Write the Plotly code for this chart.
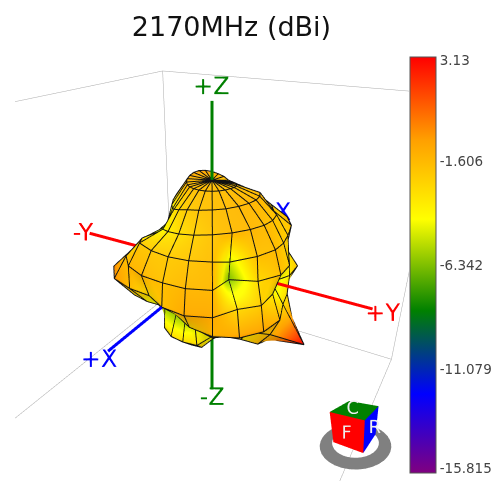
import numpy as np
import plotly.graph_objects as go

title = "2170MHz (dBi)"
gain_min, gain_max = -15.815, 3.13
tick_labels = ["3.13", "-1.606", "-6.342", "-11.079", "-15.815"]
tick_values = [2.99, -1.606, -6.342, -11.079, -15.6]

theta_deg = list(range(0, 181, 15))
phi_deg = list(range(0, 360, 15))
#          phi: 0    15    30    45    60    75    90   105   120   135   150   165   180   195   210   225   240   255   270   285   300   315   330   345
gain_table = [
    [-1.6, -1.6, -1.6, -1.6, -1.6, -1.6, -1.6, -1.6, -1.6, -1.6, -1.6, -1.6, -1.6, -1.6, -1.6, -1.6, -1.6, -1.6, -1.6, -1.6, -1.6, -1.6, -1.6, -1.6],
    [-1.5, -1.5, -1.5, -1.5, -1.5, -1.5, -1.6, -1.7, -1.8, -1.9, -2.0, -2.0, -1.6, -1.3, -1.0, -0.8, -0.7, -0.8, -1.0, -1.2, -1.4, -1.5, -1.5, -1.5],
    [-2.0, -1.7, -1.5, -1.4, -1.3, -1.3, -1.4, -1.5, -1.6, -2.2, -3.0, -3.6, -4.0, -4.0, -3.8, -3.4, -3.0, -3.0, -3.2, -3.6, -3.8, -3.8, -3.2, -2.6],
    [-2.8, -2.2, -1.7, -1.4, -1.3, -1.5, -1.8, -2.0, -2.6, -2.4, -3.2, -4.4, -5.4, -5.6, -5.6, -5.4, -5.0, -5.4, -5.8, -6.0, -6.0, -5.6, -4.2, -3.4],
    [-2.0, -1.8, -1.5, -5.0, -1.8, -1.6, -2.2, -2.4, -1.8, -1.6, -2.8, -4.4, -6.0, -6.6, -6.8, -6.6, -6.2, -6.2, -6.0, -5.6, -4.8, -3.4, -2.0, -2.0],
    [-1.8, -1.4, -1.4, -6.5, -2.8, -1.8, -2.4, -3.4, -3.8, -3.6, -4.4, -5.4, -6.4, -7.0, -7.2, -7.0, -6.6, -5.8, -5.2, -4.5, -3.2, -2.0, -1.4, -1.4],
    [-1.8, -1.0, -1.0, -2.6, -2.2, -3.5, -5.5, -3.5, -2.2, -3.2, -4.4, -5.4, -6.6, -7.2, -7.4, -7.2, -6.4, -5.0, -3.2, -1.4, -0.2, -0.4, -1.8, -3.0],
    [-4.6, -2.8, -1.4, -0.8, -0.8, -1.4, -3.0, -3.2, -3.4, -4.2, -4.8, -5.6, -6.6, -7.2, -7.4, -7.0, -6.2, -5.2, -4.4, -3.4, -2.6, -2.8, -4.0, -5.0],
    [-6.6, -4.6, -3.4, -3.4, -3.4, -1.6, 3.0, -0.5, -2.4, -3.4, -4.8, -5.8, -6.6, -7.2, -7.4, -7.0, -6.4, -5.8, -5.4, -5.0, -5.0, -5.2, -6.0, -7.2],
    [-3.0, -3.0, -4.6, -4.4, -3.4, -1.6, -1.0, -1.0, -3.0, -4.0, -5.0, -5.8, -6.4, -6.8, -7.0, -6.8, -6.4, -6.0, -5.8, -5.6, -5.4, -5.0, -3.4, -3.0],
    [-2.8, -2.8, -4.2, -4.8, -4.0, -3.2, -2.8, -3.0, -4.0, -5.0, -5.6, -6.2, -6.4, -6.6, -6.6, -6.4, -6.2, -6.0, -5.6, -5.6, -5.0, -4.4, -3.8, -2.8],
    [-5.0, -5.0, -5.0, -5.0, -5.0, -4.8, -4.8, -5.0, -5.2, -5.4, -5.6, -5.8, -6.0, -6.2, -6.4, -6.4, -6.2, -6.0, -5.8, -5.4, -5.2, -5.0, -5.0, -5.0],
    [-5.4, -5.4, -5.4, -5.4, -5.4, -5.4, -5.4, -5.4, -5.4, -5.4, -5.4, -5.4, -5.4, -5.4, -5.4, -5.4, -5.4, -5.4, -5.4, -5.4, -5.4, -5.4, -5.4, -5.4],
]

colorscale = [[0, "#800080"], [0.19, "#0000ff"], [0.39, "#008000"], [0.61, "#ffff00"], [0.8, "#ffa000"], [1, "#ff0000"]]

RADIUS = 0.74
AXIS_LEN = 1.0
BOX = 1.03
BOX_TOP = 0.97
RANGE = 1.2

g = np.array(gain_table, dtype=float)
g = np.hstack([g, g[:, :1]])
th = np.radians(theta_deg)[:, None]
ph = np.radians(phi_deg + [360])[None, :]
r = (g - gain_min) / (gain_max - gain_min) * RADIUS
x = r * np.sin(th) * np.cos(ph)
y = r * np.sin(th) * np.sin(ph)
z = r * np.cos(th) * np.ones_like(ph)

fig = go.Figure()
fig.add_trace(go.Surface(
    x=x, y=y, z=z, surfacecolor=g, cmin=gain_min, cmax=gain_max, colorscale=colorscale,
    lighting=dict(ambient=0.85, diffuse=0.35, specular=0.05, roughness=0.6),
    lightposition=dict(x=500, y=300, z=1000),
    colorbar=dict(
        x=410 / 501, xanchor="left", xpad=0, ypad=0, y=1 - 265 / 481, yanchor="middle", len=416, lenmode="pixels",
        thickness=26, thicknessmode="pixels", outlinecolor="#555", outlinewidth=1,
        tickmode="array", tickvals=tick_values, ticktext=tick_labels, ticks="",
        tickfont=dict(family="DejaVu Sans", size=13.5, color="#444"),
    ),
    hoverinfo="skip",
))

# mesh lines drawn along the gain table
lx, ly, lz = [], [], []
sc = 1.006
for i in range(1, len(theta_deg) - 1):
    lx += list(x[i] * sc) + [None]; ly += list(y[i] * sc) + [None]; lz += list(z[i] * sc) + [None]
for j in range(len(phi_deg)):
    lx += list(x[:, j] * sc) + [None]; ly += list(y[:, j] * sc) + [None]; lz += list(z[:, j] * sc) + [None]
fig.add_trace(go.Scatter3d(x=lx, y=ly, z=lz, mode="lines", line=dict(color="#111", width=2), hoverinfo="skip", showlegend=False))

# axes
axes = [("X", [1, 0, 0], "#0000ff"), ("Y", [0, 1, 0], "#ff0000"), ("Z", [0, 0, 1], "#008000")]
for name, d, col in axes:
    d = np.array(d, float) * AXIS_LEN
    fig.add_trace(go.Scatter3d(x=[-d[0], d[0]], y=[-d[1], d[1]], z=[-d[2], d[2]], mode="lines",
                               line=dict(color=col, width=6), hoverinfo="skip", showlegend=False))
    fig.add_trace(go.Scatter3d(x=[1.06 * d[0], -1.06 * d[0]], y=[1.06 * d[1], -1.06 * d[1]], z=[1.08 * d[2], -1.06 * d[2]],
                               mode="text", text=["+" + name, "-" + name], textposition="middle center",
                               textfont=dict(family="DejaVu Sans", size=24, color=col), hoverinfo="skip", showlegend=False))

# wire box
b, t = BOX, BOX_TOP
ex, ey, ez = [], [], []
for p, q in [((-b,-b,t),(b,-b,t)), ((-b,-b,t),(-b,b,t)), ((-b,-b,t),(-b,-b,-b)), ((-b,-b,-b),(b,-b,-b)), ((-b,-b,-b),(-b,b,-b)),
             ((-b,b,t),(-b,b,-b)), ((b,b,-b),(-b,b,-b))]:
    ex += [p[0], q[0], None]; ey += [p[1], q[1], None]; ez += [p[2], q[2], None]
fig.add_trace(go.Scatter3d(x=ex, y=ey, z=ez, mode="lines", line=dict(color="#aaa", width=1), hoverinfo="skip", showlegend=False))

# orientation cube
cx = [-1, 1, 1, -1, -1, 1, 1, -1]
cy = [-1, -1, 1, 1, -1, -1, 1, 1]
cz = [-1, -1, -1, -1, 1, 1, 1, 1]
tri_i = [1, 1, 2, 2, 4, 4]
tri_j = [2, 6, 3, 7, 5, 6]
tri_k = [6, 5, 7, 6, 6, 7]
fc = ["#ff0000", "#ff0000", "#0000ff", "#0000ff", "#008000", "#008000"]
fig.add_trace(go.Mesh3d(x=cx, y=cy, z=cz, i=tri_i, j=tri_j, k=tri_k, facecolor=fc, flatshading=True,
                        lighting=dict(ambient=1, diffuse=0, specular=0), hoverinfo="skip", showscale=False, scene="scene2"))
fig.add_trace(go.Scatter3d(x=[1.3, 0.3, 0.5], y=[0.2, 1.3, 0.1], z=[0.3, 0.4, 1.3], mode="text", text=["F", "R", "C"], textposition="middle center",
                           textfont=dict(family="DejaVu Sans", size=18, color="#eeeeee"), hoverinfo="skip", showlegend=False, scene="scene2"))
ring_deg = list(range(0, 360, 10))
ring_a = np.radians(ring_deg)
ring_in, ring_out = 1.5, 2.25
rx = list(ring_in * np.cos(ring_a)) + list(ring_out * np.cos(ring_a))
ry = list(ring_in * np.sin(ring_a)) + list(ring_out * np.sin(ring_a))
n = len(ring_deg)
ri = [k for k in range(n)] + [k for k in range(n)]
rj = [(k + 1) % n for k in range(n)] + [(k + 1) % n + n for k in range(n)]
rk = [(k + 1) % n + n for k in range(n)] + [k + n for k in range(n)]
fig.add_trace(go.Mesh3d(x=rx, y=ry, z=[-1.2] * len(rx), i=ri, j=rj, k=rk, color="#808080", flatshading=True,
                        lighting=dict(ambient=1, diffuse=0, specular=0), hoverinfo="skip", showscale=False, scene="scene2"))

hidden = dict(visible=False, showgrid=False, zeroline=False, showbackground=False, showticklabels=False, title="")
rng = dict(range=[-RANGE, RANGE], autorange=False)
rng2 = dict(range=[-2.3, 2.3], autorange=False)
eye = np.array([0.77, 0.44, 0.47]) * 1.347
eye2 = np.array([0.76, 0.40, 0.50]) * 1.5
fig.update_layout(
    width=501, height=481, autosize=False, paper_bgcolor="white", showlegend=False,
    margin=dict(l=0, r=0, t=0, b=0),
    title=dict(text=title, x=0.462, xanchor="center", y=0.945, yanchor="middle", font=dict(family="DejaVu Sans", size=27, color="#111")),
    scene=dict(
        domain=dict(x=[15 / 501, 409 / 501], y=[0, 430 / 481]),
        xaxis=dict(hidden, **rng), yaxis=dict(hidden, **rng), zaxis=dict(hidden, **rng),
        aspectmode="manual", aspectratio=dict(x=1, y=1, z=1),
        camera=dict(eye=dict(x=eye[0], y=eye[1], z=eye[2]), center=dict(x=0, y=0, z=0), up=dict(x=0, y=0, z=1)),
    ),
    scene2=dict(
        domain=dict(x=[308 / 501, 403 / 501], y=[9 / 481, 104 / 481]),
        xaxis=dict(hidden, **rng2), yaxis=dict(hidden, **rng2), zaxis=dict(hidden, **rng2),
        aspectmode="manual", aspectratio=dict(x=1, y=1, z=1),
        camera=dict(eye=dict(x=eye2[0], y=eye2[1], z=eye2[2]), up=dict(x=0, y=0, z=1)),
    ),
)
fig.write_html("out.html", config={"displayModeBar": False}, post_script="document.body.style.margin='0';")
